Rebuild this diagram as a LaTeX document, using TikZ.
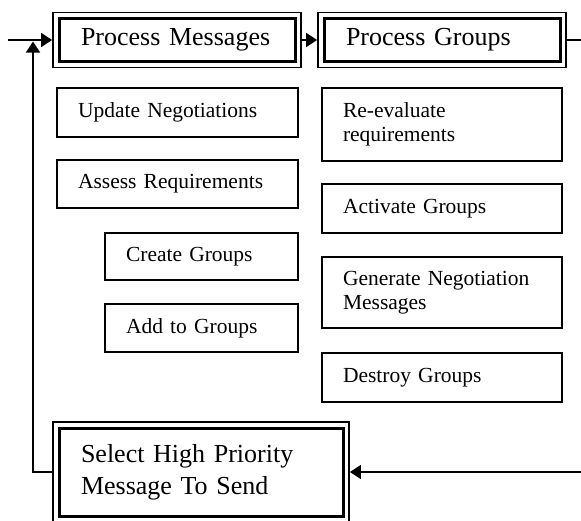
\documentclass[tikz,border=0pt]{standalone}
\usepackage{fontspec}
\setmainfont{Liberation Serif}
\usetikzlibrary{arrows.meta}

\tikzset{
  frame/.style={draw, line width=1.8pt, inner xsep=28pt, inner ysep=0pt, align=left,
    font=\fontsize{26}{32}\selectfont,
    path picture={\draw[line width=3pt]
      ([shift={(6pt,-6pt)}]path picture bounding box.north west) rectangle
      ([shift={(-6pt,6pt)}]path picture bounding box.south east);}},
  task/.style={draw, line width=1.5pt, inner xsep=21pt, inner ysep=0pt, align=left,
    font=\fontsize{21.5}{23.5}\selectfont},
  flow/.style={line width=1.4pt, -{Triangle[length=11pt,width=14pt]}},
}

\begin{document}
\begin{tikzpicture}[x=1pt,y=-1pt]
    \useasboundingbox (0,0) rectangle (581,520);
    % Main steps
    \node (pm) at (177,40) [frame, text width=192pt, minimum height=55pt] {Process Messages};
    \node (pg) at (442,40) [frame, text width=192pt, minimum height=55pt] {Process Groups};
    \node (sel) at (201,472) [frame, text width=240pt, minimum height=100pt] {Select High Priority\\Message To Send};
    % Sub tasks
    \node (un) at (177.5,112.5) [task, text width=199pt, minimum height=49pt] {Update Negotiations};
    \node (ar) at (177.5,184) [task, text width=199pt, minimum height=48pt] {Assess Requirements};
    \node (cg) at (201.5,256.5) [task, text width=151pt, minimum height=47pt] {Create Groups};
    \node (ag) at (201.5,328) [task, text width=151pt, minimum height=48pt] {Add to Groups};
    \node (re) at (442,124.5) [task, text width=198pt, minimum height=73pt] {Re-evaluate\\requirements};
    \node (ac) at (442,208.5) [task, text width=198pt, minimum height=49pt] {Activate Groups};
    \node (gn) at (442,292.5) [task, text width=198pt, minimum height=71pt] {Generate Negotiation\\Messages};
    \node (dg) at (442,377.5) [task, text width=198pt, minimum height=49pt] {Destroy Groups};
    % Loose ends
    \coordinate (in) at (8,40);
    \coordinate (out) at (581,40);
    \coordinate (back) at (581,472);
    \coordinate (up) at (33,41.5);
    % Edges
    \draw[flow] (in) -- (pm);
    \draw[flow] (pm) -- (pg);
    \draw[flow,-] (pg) -- (out);
    \draw[flow] (back) -- (sel);
    \draw[flow] (sel.west) -| (up);
\end{tikzpicture}
\end{document}
